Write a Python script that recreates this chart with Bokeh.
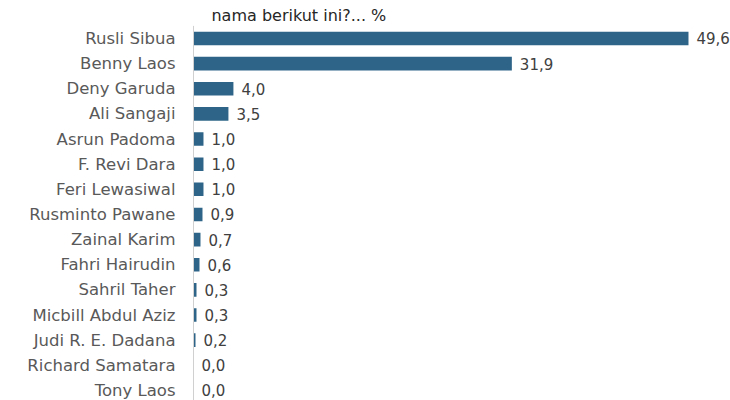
from bokeh.plotting import figure
from bokeh.models import ColumnDataSource, Range1d
from bokeh.core.properties import value
from bokeh.embed import file_html
from bokeh.resources import INLINE


names = ['Rusli Sibua', 'Benny Laos', 'Deny Garuda', 'Ali Sangaji', 'Asrun Padoma',
         'F. Revi Dara', 'Feri Lewasiwal', 'Rusminto Pawane', 'Zainal Karim',
         'Fahri Hairudin', 'Sahril Taher', 'Micbill Abdul Aziz', 'Judi R. E. Dadana',
         'Richard Samatara', 'Tony Laos']
pct = [49.6, 31.9, 4.0, 3.5, 1.0, 1.0, 1.0, 0.9, 0.7, 0.6, 0.3, 0.3, 0.2, 0.0, 0.0]
title_text = 'nama berikut ini?... %'

font = value('DejaVu Sans')
row = [-i for i in range(len(names))]
src = ColumnDataSource(dict(
    name=names, pct=pct, y=row,
    lbl=[('%.1f' % v).replace('.', ',') for v in pct],
))

p = figure(width=730, height=400, output_backend='svg', toolbar_location=None,
           x_range=Range1d(-19.34, 53.81), y_range=Range1d(-14.40, 1.51),
           min_border=0, outline_line_color=None)
p.axis.visible = False
p.grid.visible = False

# bars
p.hbar(y='y', right='pct', left=0, height=0.54, source=src,
       fill_color='#2E6487', line_color=None)

# vertical axis line
p.segment(x0=[0], y0=[0.5], x1=[0], y1=[-14.6], line_color='#D0D0D0', line_width=1)

# category labels
p.text(x=0, y='y', text='name', source=src, x_offset=-18,
       text_align='right', text_baseline='middle', text_font=font,
       text_font_size='16.5px', text_color='#595959')

# value labels
p.text(x='pct', y='y', text='lbl', source=src, x_offset=8,
       text_align='left', text_baseline='middle', text_font=font,
       text_font_size='15px', text_color='#404040')

# title (top line of the original is outside the crop)
p.text(x=[1.8], y=[1.51], text=[title_text], y_offset=15,
       text_align='left', text_baseline='alphabetic', text_font=font,
       text_font_size='16px', text_color='#262626')

open("out.html", "w").write(file_html(p, INLINE))
